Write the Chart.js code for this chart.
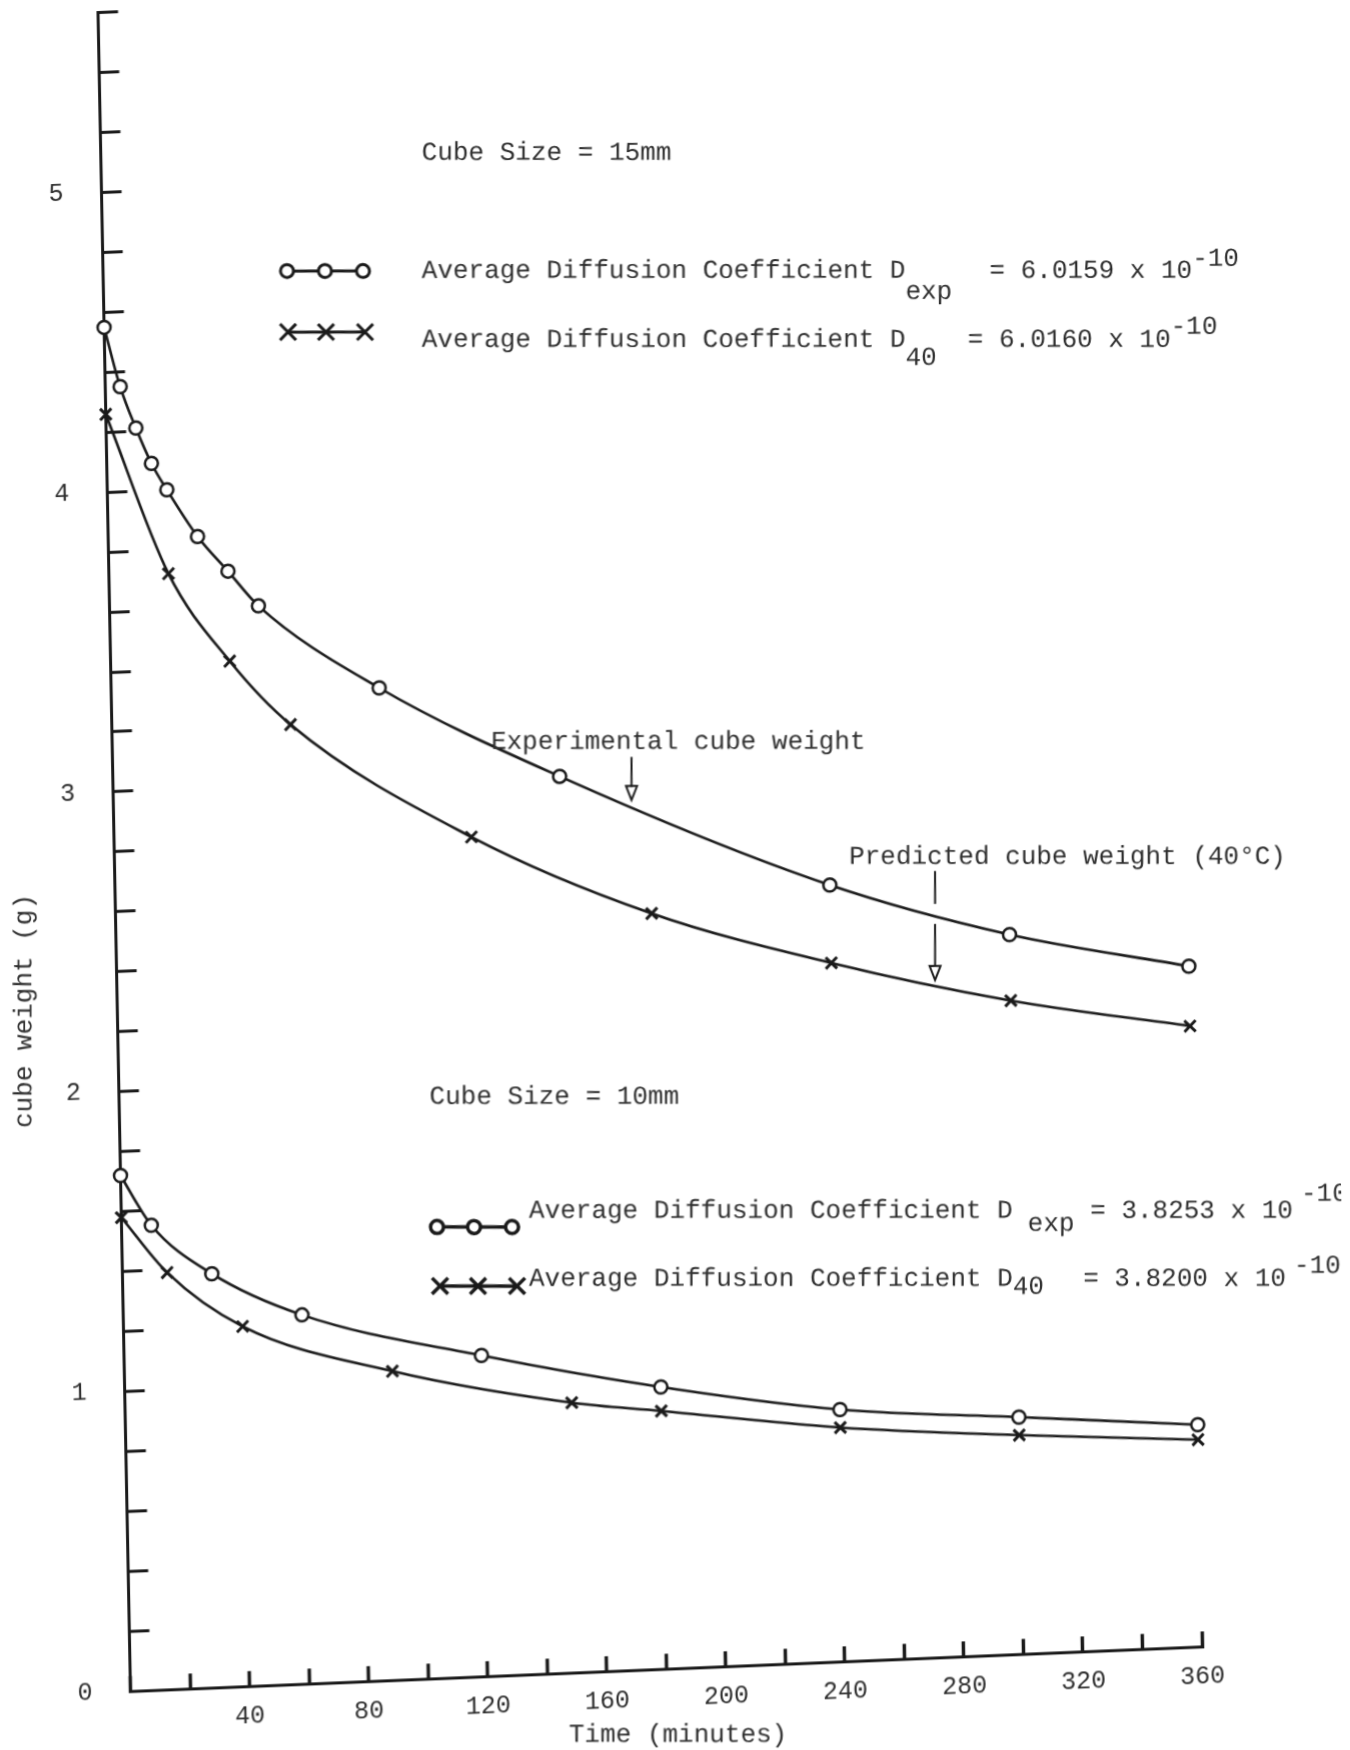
<!DOCTYPE html>
<html lang="en">
<head>
<meta charset="UTF-8">
<title>Cube weight against time, 15mm and 10mm cubes</title>
<script src="https://cdn.jsdelivr.net/npm/chart.js"></script>
<style>
    html, body { margin: 0; padding: 0; background: #fff; }
    #wrap { position: relative; width: 1350px; height: 1750px; overflow: hidden; background: #fff; }
    #weightChart { position: absolute; left: 0; top: 0; width: 1350px; height: 1820px; }
</style>
</head>
<body>
<div id="wrap"><canvas id="weightChart" width="1350" height="1820"></canvas></div>

<script>
// Readings: time in minutes, cube weight in g
const timeExp15   = [0, 5, 10, 15, 20, 30, 40, 50, 90, 150, 240, 300, 360];
const weightExp15 = [4.55, 4.35, 4.21, 4.09, 4.00, 3.84, 3.72, 3.60, 3.31, 2.99, 2.59, 2.40, 2.27];

const timePred15   = [0, 20, 40, 60, 120, 180, 240, 300, 360];
const weightPred15 = [4.26, 3.72, 3.42, 3.20, 2.80, 2.52, 2.33, 2.18, 2.07];

const timeExp10   = [0, 10, 30, 60, 120, 180, 240, 300, 360];
const weightExp10 = [1.72, 1.55, 1.38, 1.23, 1.07, 0.94, 0.84, 0.79, 0.74];

const timePred10   = [0, 15, 40, 90, 150, 180, 240, 300, 360];
const weightPred10 = [1.58, 1.39, 1.20, 1.03, 0.90, 0.86, 0.78, 0.73, 0.69];

// axis ranges and labelled ticks
const timeMax = 360, timeStep = 20;
const weightMax = 5.6, weightStep = 0.2;
const timeLabels = [40, 80, 120, 160, 200, 240, 280, 320, 360];
const weightLabels = [0, 1, 2, 3, 4, 5];

// the plotted sheet sits a little askew: origin on the page and shear of each axis
const OX = 130.5, OY = 1691;
const SKEW_B = -0.0416;   // x axis climbs to the right
const SKEW_C = 0.01935;   // y axis leans left towards the top

const INK = '#1a1a1a';
const TEXT = '#2e2e2e';
const MONO = '"Liberation Mono", "DejaVu Sans Mono", monospace';

function pairs(xs, ys) {
    return xs.map((x, i) => ({ x: x, y: ys[i] }));
}

function drawRuns(ctx, x, y, parts) {
    let cx = x;
    for (const p of parts) {
        cx += p.dx || 0;
        ctx.fillText(p.s, cx, y + (p.dy || 0));
        cx += ctx.measureText(p.s).width;
    }
}

function ring(ctx, x, y, r) {
    ctx.beginPath();
    ctx.arc(x, y, r, 0, Math.PI * 2);
    ctx.fillStyle = '#fff';
    ctx.fill();
    ctx.stroke();
}

function cross(ctx, x, y, r) {
    ctx.beginPath();
    ctx.moveTo(x - r, y - r); ctx.lineTo(x + r, y + r);
    ctx.moveTo(x + r, y - r); ctx.lineTo(x - r, y + r);
    ctx.stroke();
}

function legendKey(ctx, xs, y, kind, lw) {
    ctx.lineWidth = lw;
    ctx.strokeStyle = INK;
    ctx.beginPath();
    ctx.moveTo(xs[0], y);
    ctx.lineTo(xs[xs.length - 1], y);
    ctx.stroke();
    xs.forEach(x => kind === 'o' ? ring(ctx, x, y, 6.5) : cross(ctx, x, y, 8));
}

function arrowDown(ctx, x, segments, tip) {
    ctx.lineWidth = 2;
    ctx.strokeStyle = INK;
    ctx.beginPath();
    segments.forEach(([a, b]) => { ctx.moveTo(x, a); ctx.lineTo(x, b); });
    ctx.stroke();
    ctx.beginPath();
    ctx.moveTo(x - 5.5, tip - 14);
    ctx.lineTo(x + 5.5, tip - 14);
    ctx.lineTo(x, tip);
    ctx.closePath();
    ctx.stroke();
}

// notes, keys and axis titles, written upright on the page
const annotate = {
    id: 'annotate',
    afterDraw(chart) {
        const ctx = chart.ctx;
        ctx.save();
        const det = 1 - SKEW_B * SKEW_C;
        const a = 1 / det, b = -SKEW_B / det, c = -SKEW_C / det, d = 1 / det;
        ctx.setTransform(a, b, c, d, OX - (a * OX + c * OY), OY - (b * OX + d * OY));

        ctx.font = '26px ' + MONO;
        ctx.fillStyle = TEXT;
        ctx.textBaseline = 'middle';
        ctx.textAlign = 'left';

        ctx.fillText('Cube Size = 15mm', 421.7, 153);
        drawRuns(ctx, 421.7, 271, [
            { s: 'Average Diffusion Coefficient D' },
            { s: 'exp', dy: 21 },
            { s: '  = 6.0159 x 10', dx: 6 },
            { s: '-10', dy: -12 }
        ]);
        drawRuns(ctx, 421.7, 340, [
            { s: 'Average Diffusion Coefficient D' },
            { s: '40', dy: 18 },
            { s: '  = 6.0160 x 10' },
            { s: '-10', dy: -13 }
        ]);

        ctx.fillText('Experimental cube weight', 491, 742);
        ctx.fillText('Predicted cube weight (40\u00B0C)', 849, 857);

        ctx.fillText('Cube Size = 10mm', 429.5, 1097);
        drawRuns(ctx, 529, 1211, [
            { s: 'Average Diffusion Coefficient D' },
            { s: 'exp', dy: 13, dx: 15 },
            { s: ' = 3.8253 x 10' },
            { s: '-10', dy: -17, dx: 8 }
        ]);
        drawRuns(ctx, 529, 1279, [
            { s: 'Average Diffusion Coefficient D' },
            { s: '40', dy: 8 },
            { s: '  = 3.8200 x 10', dx: 8 },
            { s: '-10', dy: -13, dx: 8 }
        ]);

        // axis titles
        ctx.textAlign = 'center';
        ctx.fillText('Time (minutes)', 678, 1735);
        ctx.save();
        ctx.translate(24.5, 1011);
        ctx.rotate(-Math.PI / 2);
        ctx.fillText('cube weight (g)', 0, 0);
        ctx.restore();

        // series keys
        legendKey(ctx, [287, 325, 363], 271, 'o', 3);
        legendKey(ctx, [288, 326, 365], 332, 'x', 3);
        legendKey(ctx, [437, 474, 512], 1227, 'o', 3.5);
        legendKey(ctx, [440, 478, 517], 1286, 'x', 3.5);

        // pointers to the two 15mm curves
        arrowDown(ctx, 631.5, [[757, 787]], 800);
        arrowDown(ctx, 935, [[871, 904], [924, 967]], 980);

        ctx.restore();
    }
};

function initializeChart() {
    const canvas = document.getElementById('weightChart');
    canvas.style.transformOrigin = OX + 'px ' + OY + 'px';
    canvas.style.transform = 'matrix(1, ' + SKEW_B + ', ' + SKEW_C + ', 1, 0, 0)';

    const line = {
        borderColor: INK,
        borderWidth: 2.6,
        pointBorderColor: INK,
        cubicInterpolationMode: 'monotone',
        fill: false,
        clip: false
    };
    const ringPoints = { pointStyle: 'circle', pointRadius: 6.5, pointBorderWidth: 2.5, pointBackgroundColor: '#fff' };
    const crossPoints = { pointStyle: 'crossRot', pointRadius: 8, pointBorderWidth: 3, pointBackgroundColor: INK };

    const tickFont = { family: MONO, size: 25 };

    new Chart(canvas.getContext('2d'), {
        type: 'line',
        data: {
            datasets: [
                Object.assign({ label: 'Experimental, 15mm', data: pairs(timeExp15, weightExp15) }, line, ringPoints),
                Object.assign({ label: 'Predicted 40\u00B0C, 15mm', data: pairs(timePred15, weightPred15) }, line, crossPoints),
                Object.assign({ label: 'Experimental, 10mm', data: pairs(timeExp10, weightExp10) }, line, ringPoints),
                Object.assign({ label: 'Predicted 40\u00B0C, 10mm', data: pairs(timePred10, weightPred10) }, line, crossPoints)
            ]
        },
        options: {
            responsive: false,
            animation: false,
            devicePixelRatio: 1,
            layout: { padding: { top: 12.7, right: 148, bottom: 0, left: 0 } },
            plugins: { legend: { display: false }, tooltip: { enabled: false } },
            scales: {
                x: {
                    type: 'linear',
                    min: 0,
                    max: timeMax,
                    afterFit(scale) {
                        scale.height = 1820 - OY;
                        scale.paddingLeft = 0;
                        scale.paddingRight = 0;
                    },
                    border: { display: true, color: INK, width: 3 },
                    grid: { drawOnChartArea: false, drawTicks: true, tickLength: -15, tickWidth: 3.5, tickColor: INK },
                    ticks: {
                        stepSize: timeStep,
                        autoSkip: false,
                        maxTicksLimit: 100,
                        maxRotation: 0,
                        padding: 30,
                        color: TEXT,
                        font: tickFont,
                        callback: v => timeLabels.includes(v) ? String(v) : ''
                    }
                },
                y: {
                    min: 0,
                    max: weightMax,
                    afterFit(scale) {
                        scale.width = OX;
                        scale.paddingTop = 0;
                        scale.paddingBottom = 0;
                    },
                    border: { display: true, color: INK, width: 3 },
                    grid: { drawOnChartArea: false, drawTicks: true, tickLength: -20, tickWidth: 3, tickColor: INK },
                    ticks: {
                        stepSize: weightStep,
                        autoSkip: false,
                        maxTicksLimit: 100,
                        padding: 58,
                        color: TEXT,
                        font: tickFont,
                        callback: v => {
                            const r = Math.round(v);
                            return (Math.abs(v - r) < 1e-6 && weightLabels.includes(r)) ? String(r) : '';
                        }
                    }
                }
            }
        },
        plugins: [annotate]
    });
}

document.addEventListener('DOMContentLoaded', initializeChart);
</script>
</body>
</html>
